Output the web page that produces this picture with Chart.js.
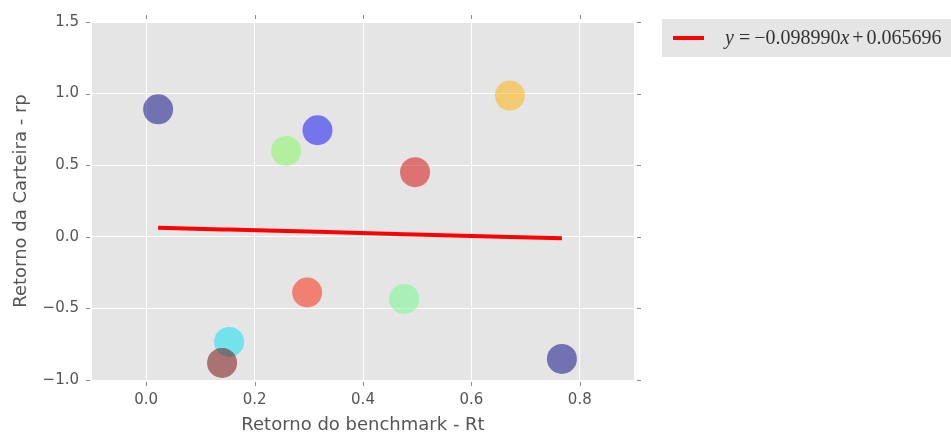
<!DOCTYPE html>
<html>
<head>
<meta charset="utf-8">
<script src="https://cdn.jsdelivr.net/npm/chart.js@4"></script>
<style>
  html, body { margin: 0; padding: 0; background: #ffffff; }
  canvas { display: block; }
</style>
</head>
<body>
<canvas id="chart" width="951" height="436"></canvas>
<script>
// Benchmark return (Rt) and portfolio return (rp) for each asset
const benchmarkReturns = [0.022, 0.258, 0.316, 0.496, 0.671, 0.297, 0.476, 0.153, 0.140, 0.767];
const portfolioReturns = [0.890, 0.600, 0.744, 0.451, 0.986, -0.389, -0.434, -0.734, -0.881, -0.853];
const pointColors = [
  'rgba(0,0,128,0.5)',
  'rgba(127,251,91,0.5)',
  'rgba(3,3,243,0.5)',
  'rgba(211,0,0,0.5)',
  'rgba(255,175,0,0.5)',
  'rgba(251,27,0,0.5)',
  'rgba(107,251,139,0.5)',
  'rgba(0,223,243,0.5)',
  'rgba(111,0,0,0.5)',
  'rgba(0,0,128,0.5)'
];

// Fitted regression line y = slope * x + intercept
const slope = -0.098990;
const intercept = 0.065696;

const xTicks = [0.0, 0.2, 0.4, 0.6, 0.8];
const yTicks = [-1.0, -0.5, 0.0, 0.5, 1.0, 1.5];

const fmt = v => v.toFixed(1).replace('-', '\u2212');

const scatterPoints = benchmarkReturns.map((x, i) => ({ x: x, y: portfolioReturns[i] }));
const fitPoints = benchmarkReturns.slice().sort((a, b) => a - b).map(x => ({ x: x, y: slope * x + intercept }));

// Grey plotting panel behind everything
const panelBackground = {
  id: 'panelBackground',
  beforeDraw(chart) {
    const { ctx, chartArea: a } = chart;
    ctx.save();
    ctx.fillStyle = '#e5e5e5';
    ctx.fillRect(a.left, a.top, a.right - a.left, a.bottom - a.top);
    ctx.restore();
  }
};

// Short outward tick marks on all four sides of the panel
const tickMarks = {
  id: 'tickMarks',
  afterDraw(chart) {
    const { ctx, chartArea: a, scales } = chart;
    ctx.save();
    ctx.strokeStyle = '#8a8a8a';
    ctx.lineWidth = 1;
    ctx.beginPath();
    xTicks.forEach(v => {
      const px = Math.round(scales.x.getPixelForValue(v)) + 0.5;
      ctx.moveTo(px, a.bottom + 2); ctx.lineTo(px, a.bottom + 6);
      ctx.moveTo(px, a.top - 3); ctx.lineTo(px, a.top - 7);
    });
    yTicks.forEach(v => {
      const py = Math.round(scales.y.getPixelForValue(v)) + 0.5;
      ctx.moveTo(a.left - 2, py); ctx.lineTo(a.left - 6, py);
      ctx.moveTo(a.right + 3, py); ctx.lineTo(a.right + 7, py);
    });
    ctx.stroke();
    ctx.restore();
  }
};

// Legend box with the regression equation, set like math text
const equationLegend = {
  id: 'equationLegend',
  afterDraw(chart) {
    const { ctx, chartArea: a } = chart;
    const boxLeft = a.right + 28, boxTop = 19, boxBottom = 57;
    const midY = (boxTop + boxBottom) / 2;
    ctx.save();
    ctx.fillStyle = '#e5e5e5';
    ctx.fillRect(boxLeft, boxTop, chart.width - boxLeft, boxBottom - boxTop);
    ctx.strokeStyle = '#ff0000';
    ctx.lineWidth = 4;
    ctx.beginPath();
    ctx.moveTo(boxLeft + 11, midY);
    ctx.lineTo(boxLeft + 42, midY);
    ctx.stroke();

    const sign = slope < 0 ? '\u2212' : '';
    const parts = [
      { t: 'y', italic: true, after: 5 },
      { t: '=', italic: false, after: 4 },
      { t: sign + Math.abs(slope).toFixed(6), italic: false, after: 0 },
      { t: 'x', italic: true, after: 3 },
      { t: '+', italic: false, after: 3 },
      { t: intercept.toFixed(6), italic: false, after: 0 }
    ];
    ctx.fillStyle = '#333333';
    ctx.textBaseline = 'middle';
    ctx.textAlign = 'left';
    let x = boxLeft + 63;
    parts.forEach(p => {
      ctx.font = (p.italic ? 'italic ' : '') + '20px "Liberation Serif", serif';
      ctx.fillText(p.t, x, midY + 1);
      x += ctx.measureText(p.t).width + p.after;
    });
    ctx.restore();
  }
};

new Chart(document.getElementById('chart'), {
  type: 'scatter',
  data: {
    datasets: [
      {
        type: 'scatter',
        label: 'assets',
        data: scatterPoints,
        backgroundColor: pointColors,
        borderWidth: 0,
        pointRadius: 15,
        pointHoverRadius: 15,
        order: 2
      },
      {
        type: 'line',
        label: 'fit',
        data: fitPoints,
        borderColor: '#ff0000',
        borderWidth: 4,
        pointRadius: 0,
        fill: false,
        tension: 0,
        order: 1
      }
    ]
  },
  options: {
    responsive: false,
    animation: false,
    events: [],
    layout: { padding: { left: 0, top: 19, right: 317, bottom: 0 } },
    plugins: {
      legend: { display: false },
      tooltip: { enabled: false }
    },
    scales: {
      x: {
        type: 'linear',
        min: -0.1,
        max: 0.9,
        afterBuildTicks: s => { s.ticks = xTicks.map(v => ({ value: v })); },
        afterFit: s => { s.height = 56; },
        grid: { color: '#ffffff', lineWidth: 1, drawTicks: false },
        border: { display: false },
        ticks: {
          callback: v => fmt(v),
          color: '#555555',
          padding: 11,
          font: { family: '"DejaVu Sans", sans-serif', size: 15 }
        },
        title: {
          display: true,
          text: 'Retorno do benchmark - Rt',
          color: '#555555',
          padding: { top: 0, bottom: 0 },
          font: { family: '"DejaVu Sans", sans-serif', size: 18 }
        }
      },
      y: {
        type: 'linear',
        min: -1.0,
        max: 1.5,
        afterBuildTicks: s => { s.ticks = yTicks.map(v => ({ value: v })); },
        afterFit: s => { s.width = 92; },
        grid: { color: '#ffffff', lineWidth: 1, drawTicks: false },
        border: { display: false },
        ticks: {
          callback: v => fmt(v),
          color: '#555555',
          padding: 13,
          font: { family: '"DejaVu Sans", sans-serif', size: 15 }
        },
        title: {
          display: true,
          text: 'Retorno da Carteira - rp',
          color: '#555555',
          padding: { top: 11, bottom: 0 },
          font: { family: '"DejaVu Sans", sans-serif', size: 18 }
        }
      }
    }
  },
  plugins: [panelBackground, tickMarks, equationLegend]
});
</script>
</body>
</html>
